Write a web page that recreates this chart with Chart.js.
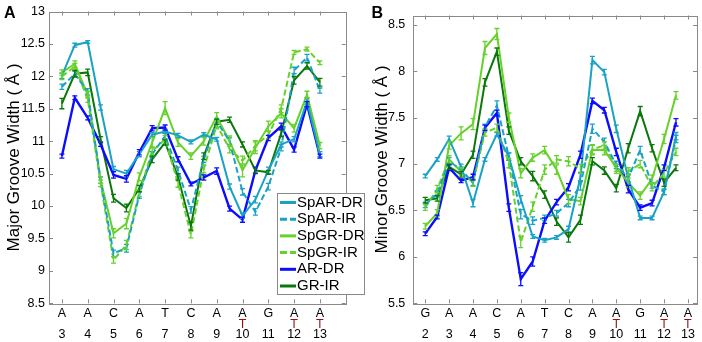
<!DOCTYPE html>
<html><head><meta charset="utf-8">
<script src="https://cdn.jsdelivr.net/npm/chart.js@4.4.1/dist/chart.umd.min.js"></script>
<style>
html,body{margin:0;padding:0;background:#fff;}
#wrap{position:relative;width:702px;height:342px;overflow:hidden;background:#fff;}
canvas{position:absolute;top:0;}
#cA{left:0;z-index:2;}
#cB{left:351px;z-index:1;}
</style></head><body>
<div id="wrap">
<canvas id="cB" width="351" height="342"></canvas>
<canvas id="cA" width="370" height="342"></canvas>
</div>
<script>
// ---------- categories / ticks ----------
const seqA = ['A','A','C','A','T','C','A','A','G','A','A'];
const numA = [3,4,5,6,7,8,9,10,11,12,13];
const seqB = ['G','A','A','C','A','T','C','A','A','G','A','A'];
const numB = [2,3,4,5,6,7,8,9,10,11,12,13];
const pairedT = [10,12,13];
const yTicksA = [8.5,9,9.5,10,10.5,11,11.5,12,12.5,13];
const yTicksB = [5.5,6,6.5,7,7.5,8,8.5];
const seriesNames = ['SpAR-DR','SpAR-IR','SpGR-DR','SpGR-IR','AR-DR','GR-IR'];

// ---------- panel A: major groove width ----------
const posA = [3,3.5,4,4.5,5,5.5,6,6.5,7,7.5,8,8.5,9,9.5,10,10.5,11,11.5,12,12.5,13];
const spardrA = [12.01,12.48,12.53,11.52,10.57,10.50,10.80,11.10,11.15,11.09,10.99,11.10,11.03,10.30,9.85,10.10,10.55,10.95,11.03,11.62,10.80];
const sparirA = [11.84,12.04,11.76,10.40,9.27,9.35,10.17,10.80,11.08,10.55,9.94,10.72,11.30,11.00,10.22,9.91,10.30,10.90,12.09,12.29,11.78];
const spgrdrA = [12.06,12.19,11.72,10.40,9.58,9.73,10.45,10.98,11.51,10.98,10.77,11.00,11.38,11.00,10.55,10.90,11.23,11.43,11.20,11.72,10.93];
const spgrirA = [12.00,12.15,11.65,10.35,9.17,9.40,10.20,10.85,11.03,10.35,9.56,10.57,11.25,10.88,10.70,10.93,11.10,11.50,12.37,12.42,12.21];
const ardrA   = [10.77,11.67,11.36,10.95,10.48,10.42,10.83,11.20,11.21,10.72,10.34,10.44,10.54,9.96,9.79,10.55,11.05,11.23,10.87,11.57,10.77];
const grirA   = [11.58,12.04,12.06,11.03,10.12,9.97,10.27,10.72,10.98,10.45,9.69,10.77,11.30,11.33,10.95,10.55,10.52,11.12,11.94,12.16,11.91];
const errSpardrA = [0.04,0.03,0.02,0.04,0.04,0.05,0.04,0.03,0.03,0.03,0.03,0.03,0.03,0.04,0.04,0.05,0.05,0.04,0.04,0.05,0.04];
const errSparirA = [0.04,0.04,0.05,0.05,0.05,0.06,0.05,0.04,0.04,0.05,0.05,0.05,0.04,0.05,0.05,0.05,0.05,0.05,0.05,0.05,0.04];
const errSpgrdrA = [0.04,0.05,0.05,0.05,0.07,0.08,0.06,0.08,0.10,0.06,0.05,0.06,0.06,0.08,0.10,0.09,0.08,0.07,0.06,0.05,0.05];
const errSpgrirA = [0.05,0.05,0.05,0.05,0.05,0.07,0.05,0.06,0.06,0.06,0.05,0.06,0.06,0.06,0.07,0.08,0.06,0.06,0.03,0.03,0.03];
const errArdrA   = [0.03,0.03,0.03,0.03,0.05,0.05,0.04,0.04,0.04,0.04,0.03,0.04,0.05,0.04,0.04,0.05,0.04,0.05,0.04,0.04,0.03];
const errGrirA   = [0.08,0.05,0.05,0.04,0.06,0.06,0.05,0.05,0.04,0.05,0.06,0.05,0.04,0.04,0.04,0.04,0.03,0.05,0.06,0.05,0.06];

// ---------- panel B: minor groove width ----------
const posB = [2,2.5,3,3.5,4,4.5,5,5.5,6,6.5,7,7.5,8,8.5,9,9.5,10,10.5,11,11.5,12,12.5];
const spardrB = [6.87,7.05,7.27,6.97,6.58,7.05,7.32,7.08,6.62,6.22,6.18,6.21,6.30,6.86,8.12,7.99,7.38,6.85,6.42,6.42,6.70,7.30];
const sparirB = [6.56,6.68,7.03,6.94,6.80,7.40,7.63,7.08,6.46,6.39,6.42,6.47,6.58,6.77,7.38,7.24,6.99,6.85,7.15,6.77,6.70,7.27];
const spgrdrB = [6.33,6.47,7.20,7.33,7.43,8.25,8.40,7.50,6.90,7.07,7.15,6.94,6.62,6.60,7.15,7.15,6.96,6.80,6.66,6.84,7.27,7.74];
const spgrirB = [6.53,6.73,7.05,6.92,6.80,7.34,7.39,7.01,6.16,6.54,6.94,7.05,7.03,6.95,7.16,7.20,6.95,6.92,7.00,6.75,6.90,7.13];
const ardrB   = [6.25,6.43,6.96,6.82,6.86,7.39,7.55,6.53,5.76,5.95,6.39,6.59,6.75,7.10,7.68,7.58,7.13,6.73,6.53,6.58,6.96,7.45];
const grirB   = [6.61,6.63,6.97,6.89,7.10,7.88,8.21,7.36,7.03,6.87,6.67,6.38,6.21,6.40,7.03,6.93,6.74,7.17,7.57,7.17,6.80,6.96];
const errSpardrB = [0.02,0.02,0.03,0.03,0.04,0.02,0.02,0.04,0.04,0.02,0.02,0.02,0.03,0.05,0.04,0.03,0.04,0.04,0.02,0.02,0.03,0.04];
const errSparirB = [0.03,0.03,0.04,0.03,0.03,0.03,0.05,0.04,0.05,0.04,0.03,0.03,0.04,0.05,0.05,0.04,0.04,0.04,0.04,0.03,0.03,0.04];
const errSpgrdrB = [0.03,0.04,0.04,0.07,0.06,0.07,0.06,0.05,0.05,0.04,0.04,0.05,0.05,0.04,0.05,0.05,0.04,0.05,0.04,0.04,0.05,0.04];
const errSpgrirB = [0.03,0.04,0.04,0.04,0.04,0.04,0.04,0.05,0.06,0.05,0.05,0.04,0.05,0.05,0.05,0.04,0.05,0.04,0.04,0.04,0.04,0.04];
const errArdrB   = [0.02,0.02,0.03,0.02,0.03,0.03,0.03,0.04,0.07,0.05,0.03,0.03,0.04,0.04,0.03,0.03,0.04,0.04,0.03,0.03,0.03,0.04];
const errGrirB   = [0.03,0.03,0.03,0.03,0.04,0.04,0.04,0.04,0.04,0.05,0.04,0.04,0.05,0.05,0.04,0.04,0.04,0.05,0.05,0.04,0.04,0.03];

// ---------- styles ----------
const TEAL = '#1aa2c6', LIME = '#66d12a', BLUE = '#0c0cff', DKGREEN = '#0a780a';
const styles = [
  {c: TEAL, dash: []}, {c: TEAL, dash: [6,3]},
  {c: LIME, dash: []}, {c: LIME, dash: [6,3]},
  {c: BLUE, dash: []}, {c: DKGREEN, dash: []}
];
Chart.defaults.font.family = "'Liberation Sans', Arial, Helvetica, sans-serif";
Chart.defaults.color = '#000';

function buildDatasets(pos, vals, errs) {
  return vals.map((v, k) => ({
    label: seriesNames[k],
    data: pos.map((p, i) => ({x: p, y: v[i]})),
    err: errs[k],
    borderColor: styles[k].c,
    borderDash: styles[k].dash,
    borderWidth: k === 4 ? 2.4 : 2,
    pointRadius: 0,
    tension: 0,
    fill: false
  }));
}

const decorPlugin = {
  id: 'decor',
  afterDatasetsDraw(chart) {
    const ctx = chart.ctx, xs = chart.scales.x, ys = chart.scales.y;
    ctx.save();
    chart.data.datasets.forEach(ds => {
      ctx.strokeStyle = ds.borderColor;
      ctx.lineWidth = 1.3;
      ctx.setLineDash([]);
      ds.data.forEach((pt, i) => {
        const e = ds.err[i];
        const px = xs.getPixelForValue(pt.x);
        const pt1 = ys.getPixelForValue(pt.y + e), pb = ys.getPixelForValue(pt.y - e);
        ctx.beginPath();
        ctx.moveTo(px, pt1); ctx.lineTo(px, pb);
        ctx.moveTo(px - 2.5, pt1); ctx.lineTo(px + 2.5, pt1);
        ctx.moveTo(px - 2.5, pb); ctx.lineTo(px + 2.5, pb);
        ctx.stroke();
      });
    });
    ctx.restore();
  },
  afterDraw(chart, args, o) {
    const ctx = chart.ctx, xs = chart.scales.x, ys = chart.scales.y, a = chart.chartArea;
    ctx.save();
    ctx.strokeStyle = '#8a8a8a';
    ctx.lineWidth = 1;
    ctx.strokeRect(Math.round(a.left) + 0.5, Math.round(a.top) + 0.5, Math.round(a.right - a.left), Math.round(a.bottom - a.top));
    ctx.beginPath();
    xs.ticks.forEach(t => {
      const px = Math.round(xs.getPixelForValue(t.value)) + 0.5;
      ctx.moveTo(px, a.bottom); ctx.lineTo(px, a.bottom - 4);
      ctx.moveTo(px, a.top); ctx.lineTo(px, a.top + 4);
    });
    ys.ticks.forEach(t => {
      const py = Math.round(ys.getPixelForValue(t.value)) + 0.5;
      ctx.moveTo(a.left, py); ctx.lineTo(a.left + 4, py);
      ctx.moveTo(a.right, py); ctx.lineTo(a.right - 4, py);
    });
    ctx.stroke();
    // paired base (red T) under A labels
    ctx.fillStyle = '#9a1010';
    ctx.font = "12.5px 'Liberation Sans', Arial, sans-serif";
    ctx.textAlign = 'center';
    ctx.textBaseline = 'middle';
    pairedT.forEach(n => {
      ctx.fillText('T', xs.getPixelForValue(n), xs.top + 4.6 + 10.8 * 1.5);
    });
    // panel letter
    ctx.fillStyle = '#000';
    ctx.font = "bold 16px 'Liberation Sans', Arial, sans-serif";
    ctx.textAlign = 'left';
    ctx.textBaseline = 'alphabetic';
    ctx.fillText(o.letter, o.lx, 18);
    // legend
    if (o.legend) {
      const L = o.legend;
      ctx.fillStyle = '#fff';
      ctx.fillRect(L.x, L.y, L.w, L.h);
      ctx.strokeStyle = '#8a8a8a';
      ctx.strokeRect(L.x + 0.5, L.y + 0.5, L.w, L.h);
      ctx.font = "15px 'Liberation Sans', Arial, sans-serif";
      ctx.textBaseline = 'middle';
      chart.data.datasets.forEach((ds, k) => {
        const cy = L.y + 9.5 + k * 16.7;
        ctx.strokeStyle = ds.borderColor;
        ctx.lineWidth = 3;
        ctx.setLineDash(ds.borderDash.length ? [7, 3] : []);
        ctx.beginPath();
        ctx.moveTo(L.x + 3, cy); ctx.lineTo(L.x + 19, cy);
        ctx.stroke();
        ctx.setLineDash([]);
        ctx.fillStyle = '#000';
        ctx.fillText(ds.label, L.x + 20, cy);
      });
    }
    ctx.restore();
  }
};

function makeChart(id, pos, vals, errs, seq, nums, yTicks, cfg) {
  return new Chart(document.getElementById(id), {
    type: 'line',
    data: {datasets: buildDatasets(pos, vals, errs)},
    options: {
      responsive: false, animation: false, devicePixelRatio: 1,
      layout: {padding: {left: 0, right: cfg.padRight, top: 6, bottom: 0}},
      plugins: {legend: {display: false}, tooltip: {enabled: false},
        decor: {letter: cfg.letter, lx: cfg.lx, legend: cfg.legend}},
      scales: {
        x: {
          type: 'linear', min: cfg.xmin, max: cfg.xmax,
          afterBuildTicks: s => { s.ticks = nums.map(v => ({value: v})); },
          afterFit: s => { s.height = 38.7; },
          ticks: {autoSkip: false, maxRotation: 0, padding: 4.6, color: '#000',
            font: {size: 12.5, lineHeight: '10.8px'},
            callback: (v, i) => [seq[i], ' ', String(nums[i])]},
          grid: {display: false, drawTicks: false}, border: {display: false}
        },
        y: {
          min: cfg.ymin, max: cfg.ymax,
          afterBuildTicks: s => { s.ticks = yTicks.map(v => ({value: v})); },
          afterFit: s => { s.width = cfg.yw; },
          ticks: {padding: cfg.ypad, color: '#000', font: {size: 12.5}, callback: v => String(v)},
          grid: {display: false, drawTicks: false}, border: {display: false},
          title: {display: true, text: cfg.title, color: '#000', font: {size: 17},
            padding: {top: cfg.titlePad, bottom: 0}}
        }
      }
    },
    plugins: [decorPlugin]
  });
}

makeChart('cA', posA,
  [spardrA, sparirA, spgrdrA, spgrirA, ardrA, grirA],
  [errSpardrA, errSparirA, errSpgrdrA, errSpgrirA, errArdrA, errGrirA],
  seqA, numA, yTicksA,
  {padRight: 24.3, xmin: 2.5, xmax: 14, ymin: 8.5, ymax: 13, yw: 49, ypad: 4,
   title: 'Major Groove Width ( Å )', titlePad: 3.8, letter: 'A', lx: 4,
   legend: {x: 277, y: 193, w: 87, h: 101}});

makeChart('cB', posB,
  [spardrB, sparirB, spgrdrB, spgrirB, ardrB, grirB],
  [errSpardrB, errSparirB, errSpgrdrB, errSpgrirB, errArdrB, errGrirB],
  seqB, numB, yTicksB,
  {padRight: 5, xmin: 1.5, xmax: 13.38, ymin: 5.5, ymax: 8.6, yw: 62.3, ypad: 8,
   title: 'Minor Groove Width ( Å )', titlePad: 20.8, letter: 'B', lx: 20.5,
   legend: null});
</script>
</body></html>
